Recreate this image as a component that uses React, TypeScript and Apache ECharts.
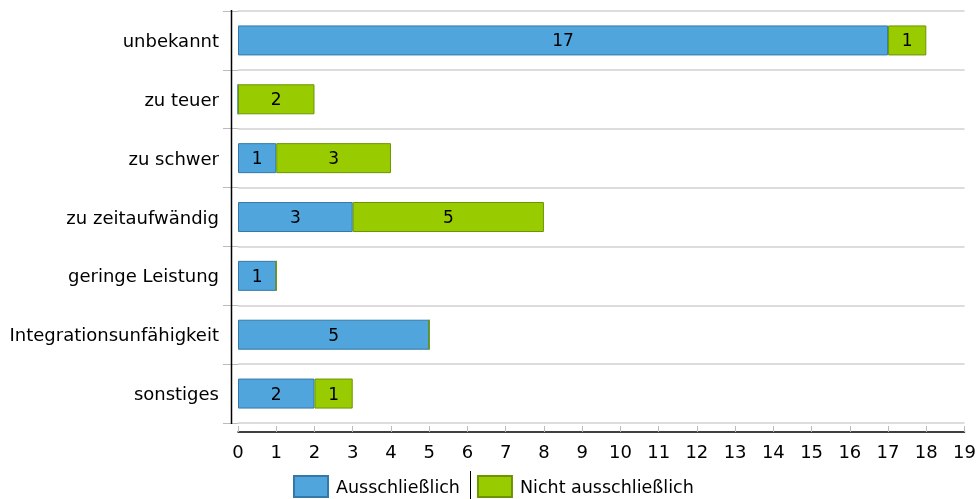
import React, { useEffect, useRef } from "react";
import * as echarts from "echarts";

const categories = [
  "unbekannt",
  "zu teuer",
  "zu schwer",
  "zu zeitaufwändig",
  "geringe Leistung",
  "Integrationsunfähigkeit",
  "sonstiges",
];
const exclusive = [17, 0, 1, 3, 1, 5, 2];
const nonExclusive = [1, 2, 3, 5, 0, 0, 1];
const seriesNames = ["Ausschließlich", "Nicht ausschließlich"];
const xMin = 0;
const xMax = 19;
const xInterval = 1;

const FONT = "DejaVu Sans";

export default function App() {
  const ref = useRef<HTMLDivElement>(null);
  useEffect(() => {
    if (!ref.current) return;
    const chart = echarts.init(ref.current, undefined, { renderer: "svg" });
    const labelCfg = {
      show: true,
      position: "inside",
      color: "#000",
      fontFamily: FONT,
      fontSize: 17,
      formatter: (p: any) => (p.value === 0 ? "" : String(p.value)),
    };
    chart.setOption({
      animation: false,
      textStyle: { fontFamily: FONT },
      grid: { left: 238, right: 12, top: 11, bottom: 76, containLabel: false },
      legend: {
        top: 475,
        left: 293,
        padding: 0,
        itemWidth: 34,
        itemHeight: 21,
        itemGap: 17,
        icon: "rect",
        textStyle: { fontFamily: FONT, fontSize: 17.5, color: "#000", padding: [0, 0, 0, 3] },
        data: seriesNames,
      },
      xAxis: {
        type: "value",
        min: xMin,
        max: xMax,
        interval: xInterval,
        offset: 9,
        axisLine: { show: true, lineStyle: { color: "#000", width: 1.5 } },
        axisTick: { show: true, inside: true, length: 6, lineStyle: { color: "#bbb" } },
        axisLabel: { color: "#000", fontSize: 18, fontFamily: FONT, margin: 10 },
        splitLine: { show: false },
      },
      yAxis: {
        type: "category",
        data: categories,
        inverse: true,
        axisLine: { show: false },
        axisTick: { show: true, length: 15, lineStyle: { color: "#bbb" } },
        axisLabel: { color: "#000", fontSize: 18, fontFamily: FONT, margin: 19 },
        splitLine: { show: true, lineStyle: { color: "#dcdcdc", width: 2 } },
      },
      series: [
        {
          name: seriesNames[0],
          type: "bar",
          stack: "total",
          barWidth: 30,
          data: exclusive,
          itemStyle: { color: "#4fa5dc", borderColor: "#3579a8", borderWidth: 1 },
          label: labelCfg,
        },
        {
          name: seriesNames[1],
          type: "bar",
          stack: "total",
          barWidth: 30,
          data: nonExclusive,
          itemStyle: { color: "#99cc00", borderColor: "#6b9400", borderWidth: 1 },
          label: labelCfg,
        },
      ],
      graphic: [
        {
          type: "line",
          shape: { x1: 470.5, y1: 471, x2: 470.5, y2: 499 },
          style: { stroke: "#000", lineWidth: 1 },
        },
        {
          type: "line",
          z: 10,
          shape: { x1: 231.5, y1: 10, x2: 231.5, y2: 424 },
          style: { stroke: "#000", lineWidth: 1.5 },
        },
      ],
    });
    return () => chart.dispose();
  }, []);
  return (
    <div
      ref={ref}
      style={{ position: "fixed", left: 0, top: 0, width: 979, height: 499 }}
    />
  );
}
